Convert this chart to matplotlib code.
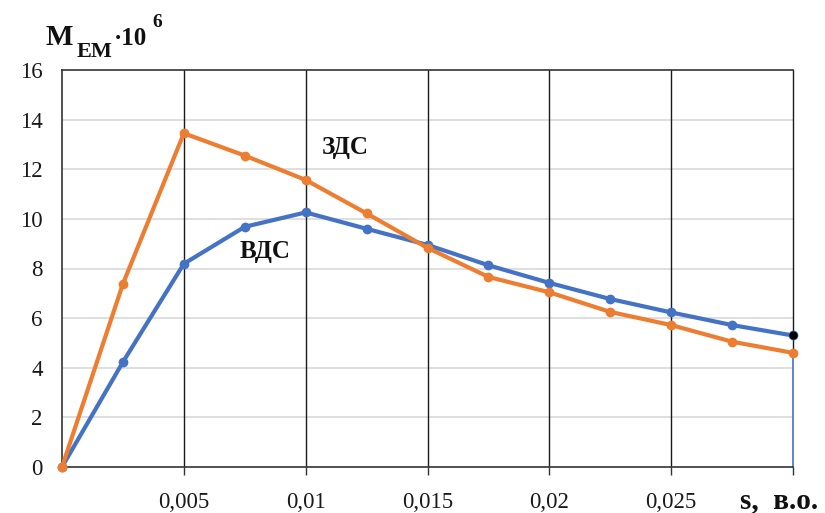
import matplotlib
matplotlib.use("Agg")
import matplotlib.pyplot as plt
import numpy as np

s = [0, 0.0025, 0.005, 0.0075, 0.01, 0.0125, 0.015, 0.0175, 0.02, 0.0225, 0.025, 0.0275, 0.03]
zds = [0, 7.38, 13.45, 12.55, 11.57, 10.22, 8.83, 7.66, 7.04, 6.25, 5.72, 5.05, 4.6]
vds = [0, 4.23, 8.19, 9.68, 10.26, 9.6, 8.95, 8.13, 7.42, 6.77, 6.23, 5.72, 5.3]
xticks = [0.005, 0.01, 0.015, 0.02, 0.025, 0.03]
xticklabels = ["0,005", "0,01", "0,015", "0,02", "0,025", ""]
yticks = [0, 2, 4, 6, 8, 10, 12, 14, 16]

ORANGE = "#ED7D31"
BLUE = "#4472C4"
serif = "Liberation Serif"

W, H = 825, 513
fig = plt.figure(figsize=(W / 100, H / 100), dpi=100)
ax = fig.add_axes([62 / W, (H - 467) / H, (793 - 62) / W, (467 - 70) / H])

ax.set_xlim(0, 0.03)
ax.set_ylim(0, 16)

# grid
for y in yticks[1:-1]:
    ax.axhline(y, color="#d9d9d9", lw=1.2, zorder=0)
for x in xticks[:-1]:
    ax.axvline(x, color="#1a1a1a", lw=1.0, zorder=0)
# right edge: black above last orange point, blue below
ax.plot([0.03, 0.03], [zds[-1], 16], color="#1a1a1a", lw=1.0, zorder=1, clip_on=False)
ax.plot([0.03, 0.03], [0, zds[-1]], color=BLUE, lw=1.2, zorder=1, clip_on=False)

ax.plot(s, vds, color=BLUE, lw=3, marker="o", ms=6, zorder=3, clip_on=False)
ax.plot(s, zds, color=ORANGE, lw=3, marker="o", ms=6, zorder=4, clip_on=False)
ax.plot([s[-1]], [vds[-1]], "o", color="black", ms=5, zorder=5, clip_on=False)

ax.spines["right"].set_visible(False)
for sp in ["left", "top", "bottom"]:
    ax.spines[sp].set_color("#333333")
    ax.spines[sp].set_linewidth(1.2)

ax.set_xticks(xticks)
ax.set_xticklabels(xticklabels)
ax.set_yticks(yticks)
ax.tick_params(axis="x", length=6, width=1, color="#333333", direction="out", pad=12)
ax.tick_params(axis="y", length=0, pad=14)
for lab in ax.get_xticklabels() + ax.get_yticklabels():
    lab.set_fontfamily(serif)
    lab.set_fontsize(16.5)
    lab.set_color("#1a1a1a")

ax.text(0.01161, 12.86, "ЗДС", fontfamily=serif, fontweight="bold", fontsize=18,
        ha="center", va="center", color="#111111", zorder=6)
ax.text(0.00833, 8.67, "ВДС", fontfamily=serif, fontweight="bold", fontsize=18,
        ha="center", va="center", color="#111111", zorder=6)

# x-axis label
fig.text(740 / W, 1 - 508 / H, "s,  в.о.", fontfamily=serif, fontweight="bold", fontsize=21,
         ha="left", va="baseline", color="#111111")

# y-axis label pieces
def ft(x, y, t, size, **kw):
    fig.text(x / W, 1 - y / H, t, fontfamily=serif, fontweight="bold", fontsize=size,
             color="#111111", ha="left", va="baseline", **kw)

ft(46, 45, "M", 21)
ft(77, 57, "EM", 16)
ft(114, 45, "·10", 18)
ft(152, 27, "6", 14)

fig.savefig("out.png", dpi=100)
